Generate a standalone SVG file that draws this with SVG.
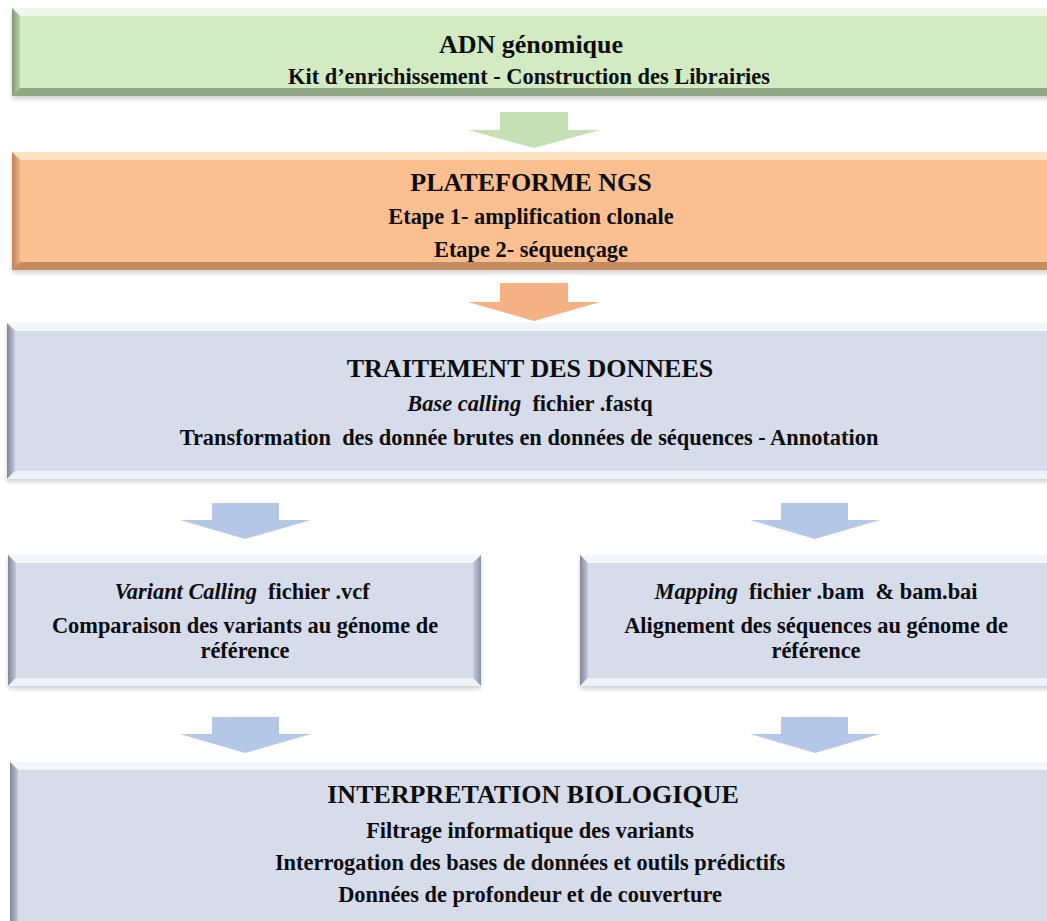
<svg xmlns="http://www.w3.org/2000/svg" width="1047" height="921" viewBox="0 0 1047 921">
<defs>
<style>
text{font-family:"Liberation Serif","Times New Roman",serif;font-weight:bold;fill:#0d0d0d;text-anchor:middle}
.h{font-size:26px}
.b{font-size:22.4px}
.i{font-style:italic}
</style>
<filter id="sh" x="-5%" y="-10%" width="110%" height="130%">
<feDropShadow dx="0" dy="3" stdDeviation="2" flood-color="#000" flood-opacity="0.18"/>
</filter>
<linearGradient id="gL" x1="0" x2="1" y1="0" y2="0"><stop offset="0" stop-color="#7f9a72"/><stop offset="1" stop-color="#b9d3aa"/></linearGradient>
<linearGradient id="oL" x1="0" x2="1" y1="0" y2="0"><stop offset="0" stop-color="#c28559"/><stop offset="1" stop-color="#eab088"/></linearGradient>
<linearGradient id="bL" x1="0" x2="1" y1="0" y2="0"><stop offset="0" stop-color="#7e8699"/><stop offset="1" stop-color="#c2c9d9"/></linearGradient>
<linearGradient id="bR" x1="1" x2="0" y1="0" y2="0"><stop offset="0" stop-color="#8a92a5"/><stop offset="1" stop-color="#c6ccdb"/></linearGradient>
</defs>

<g id="connectors">
<polygon points="500,112 568,112 568,130 600,130 534,148 468,130 500,130" fill="#c5e0b4"/>
<polygon points="500,283 568,283 568,302 600,302 534,321 468,302 500,302" fill="#f4b183"/>
<polygon points="212,503 279,503 279,520 311,520 245,539 180,520 212,520" fill="#b4c7e7"/>
<polygon points="781,503 848,503 848,520 880,520 815,539 750,520 781,520" fill="#b4c7e7"/>
<polygon points="212,717 279,717 279,734 311,734 245,753 180,734 212,734" fill="#b4c7e7"/>
<polygon points="781,717 848,717 848,734 880,734 815,753 750,734 781,734" fill="#b4c7e7"/>
</g>

<g id="node-adn">
<rect x="12" y="8" width="1045" height="88" fill="#d3ebc3" filter="url(#sh)"/>
<polygon points="12,8 1057,8 1049,16 20,16" fill="#eef8e8"/>
<polygon points="12,8 20,16 20,88 12,96" fill="url(#gL)"/>
<polygon points="12,96 20,88 1049,88 1057,96" fill="#8fa883"/>
<text class="h" x="531" y="53">ADN génomique</text>
<text class="b" x="529" y="84">Kit d’enrichissement - Construction des Librairies</text>
</g>

<g id="node-ngs">
<rect x="12" y="152" width="1045" height="118" fill="#fbbf90" filter="url(#sh)"/>
<polygon points="12,152 1057,152 1049,160 20,160" fill="#fde3c4"/>
<polygon points="12,152 20,160 20,262 12,270" fill="url(#oL)"/>
<polygon points="12,270 20,262 1049,262 1057,270" fill="#c48a60"/>
<text class="h" x="531" y="191">PLATEFORME NGS</text>
<text class="b" x="531" y="224">Etape 1- amplification clonale</text>
<text class="b" x="531" y="257">Etape 2- séquençage</text>
</g>

<g id="node-traitement">
<rect x="7" y="323" width="1050" height="156" fill="#d6dcea" filter="url(#sh)"/>
<polygon points="7,323 1057,323 1049,331 15,331" fill="#f3f5fa"/>
<polygon points="7,323 15,331 15,471 7,479" fill="url(#bL)"/>
<polygon points="7,479 15,471 1049,471 1057,479" fill="#eef1f7"/>
<text class="h" x="530" y="377">TRAITEMENT DES DONNEES</text>
<text class="b" x="530" y="411"><tspan class="i">Base calling</tspan>&#160; fichier .fastq</text>
<text class="b" x="529" y="445">Transformation&#160; des donnée brutes en données de séquences - Annotation</text>
</g>

<g id="node-variant">
<rect x="8" y="555" width="473" height="131" fill="#d6dcea" filter="url(#sh)"/>
<polygon points="8,555 481,555 473,563 16,563" fill="#f3f5fa"/>
<polygon points="8,555 16,563 16,678 8,686" fill="url(#bL)"/>
<polygon points="481,555 481,686 473,678 473,563" fill="url(#bR)"/>
<polygon points="8,686 16,678 473,678 481,686" fill="#eef1f7"/>
<text class="b" x="242" y="599"><tspan class="i">Variant Calling</tspan>&#160; fichier .vcf</text>
<text class="b" x="245" y="633">Comparaison des variants au génome de</text>
<text class="b" x="245" y="658">référence</text>
</g>

<g id="node-mapping">
<rect x="580" y="555" width="477" height="131" fill="#d6dcea" filter="url(#sh)"/>
<polygon points="580,555 1057,555 1049,563 588,563" fill="#f3f5fa"/>
<polygon points="580,555 588,563 588,678 580,686" fill="url(#bL)"/>
<polygon points="580,686 588,678 1049,678 1057,686" fill="#eef1f7"/>
<text class="b" x="816" y="599"><tspan class="i">Mapping</tspan>&#160; fichier .bam&#160; &amp; bam.bai</text>
<text class="b" x="816" y="633">Alignement des séquences au génome de</text>
<text class="b" x="816" y="658">référence</text>
</g>

<g id="node-interpretation">
<rect x="10" y="762" width="1047" height="170" fill="#d6dcea"/>
<polygon points="10,762 1057,762 1049,770 18,770" fill="#f3f5fa"/>
<polygon points="10,762 18,770 18,930 10,930" fill="url(#bL)"/>
<text class="h" x="533" y="803">INTERPRETATION BIOLOGIQUE</text>
<text class="b" x="530" y="838">Filtrage informatique des variants</text>
<text class="b" x="530" y="870">Interrogation des bases de données et outils prédictifs</text>
<text class="b" x="530" y="902">Données de profondeur et de couverture</text>
</g>
</svg>
